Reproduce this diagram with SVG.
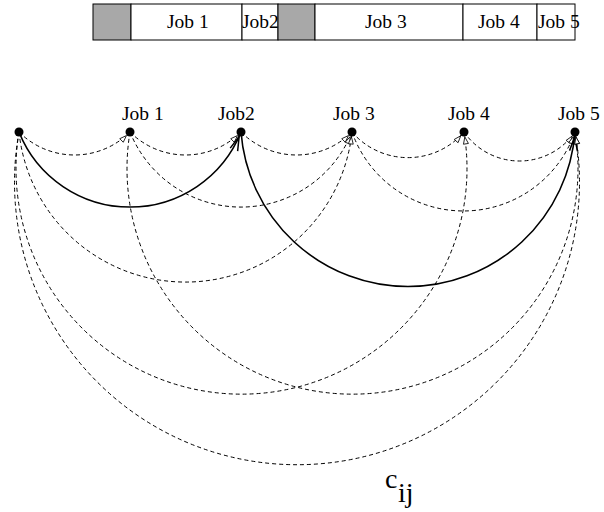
<svg xmlns="http://www.w3.org/2000/svg" width="604" height="512" viewBox="0 0 604 512">
<style>
text{font-family:"Liberation Serif","Times New Roman",serif;fill:#000}
.lbl{font-size:19.5px}
.bar{fill:#fff;stroke:#000;stroke-width:1}
.idle{fill:#a8a8a8;stroke:#000;stroke-width:1}
.d{fill:none;stroke:#000;stroke-width:1;stroke-dasharray:4 3;marker-end:url(#ad)}
.s{fill:none;stroke:#000;stroke-width:1.6;marker-end:url(#as)}
.dot{fill:#000}
</style>
<defs>
<marker id="ad" markerUnits="userSpaceOnUse" markerWidth="16" markerHeight="8" refX="12" refY="2.5" orient="auto" overflow="visible">
<path d="M0,0 L7,2.5 L0,5 z" fill="#fff" stroke="#000" stroke-width="0.8" stroke-dasharray="none"/>
</marker>
<marker id="as" markerUnits="userSpaceOnUse" markerWidth="24" markerHeight="10" refX="19" refY="4" orient="auto" overflow="visible">
<path d="M0,0 L14,4 L0,8" fill="none" stroke="#000" stroke-width="1.5" stroke-dasharray="none"/>
</marker>
</defs>

<g id="schedule">
<rect class="idle" x="93" y="4" width="38" height="36"/>
<rect class="bar" x="131" y="4" width="111" height="36"/>
<rect class="bar" x="242" y="4" width="36" height="36"/>
<rect class="idle" x="278" y="4" width="37" height="36"/>
<rect class="bar" x="315" y="4" width="148" height="36"/>
<rect class="bar" x="463" y="4" width="74" height="36"/>
<rect class="bar" x="537" y="4" width="38" height="36"/>
<text class="lbl" x="167" y="28">Job 1</text>
<text class="lbl" x="242" y="28">Job2</text>
<text class="lbl" x="365" y="28">Job 3</text>
<text class="lbl" x="478" y="28">Job 4</text>
<text class="lbl" x="538" y="28">Job 5</text>
</g>

<g id="connectors">
<path class="d" d="M19,132 A78.5,78.5 0 0 0 130,132"/>
<path class="d" d="M130,132 A78.5,78.5 0 0 0 241,132"/>
<path class="d" d="M241,132 A78.5,78.5 0 0 0 352,132"/>
<path class="d" d="M352,132 A74,74 0 0 0 464,132"/>
<path class="d" d="M464,132 A67.6,67.6 0 0 0 575,132"/>
<path class="s" d="M19,132 A119.6,119.6 0 0 0 241,132"/>
<path class="d" d="M130,132 A119.6,119.6 0 0 0 352,132"/>
<path class="d" d="M352,132 A118.2,118.2 0 0 0 575,132"/>
<path class="d" d="M19,132 A167.4,167.4 0 0 0 352,132"/>
<path class="s" d="M241,132 A167.5,167.5 0 0 0 575,132"/>
<path class="d" d="M19,132 A225.5,225.5 0 1 0 464,132"/>
<path class="d" d="M130,132 A225.5,225.5 0 1 0 575,132"/>
<path class="d" d="M19,132 A282.5,282.5 0 1 0 575,132"/>
</g>

<g id="start"><circle class="dot" cx="19" cy="132" r="4.5"/></g>
<g id="job1"><circle class="dot" cx="130" cy="132" r="4.5"/><text class="lbl" x="122" y="120">Job 1</text></g>
<g id="job2"><circle class="dot" cx="241" cy="132" r="4.5"/><text class="lbl" x="218" y="120">Job2</text></g>
<g id="job3"><circle class="dot" cx="352" cy="132" r="4.5"/><text class="lbl" x="333" y="120">Job 3</text></g>
<g id="job4"><circle class="dot" cx="464" cy="132" r="4.5"/><text class="lbl" x="448" y="120">Job 4</text></g>
<g id="job5"><circle class="dot" cx="575" cy="132" r="4.5"/><text class="lbl" x="558" y="120">Job 5</text></g>

<g id="cost-label">
<text x="385" y="488" font-size="28">c</text>
<text x="398" y="502" font-size="28">ij</text>
</g>
</svg>
